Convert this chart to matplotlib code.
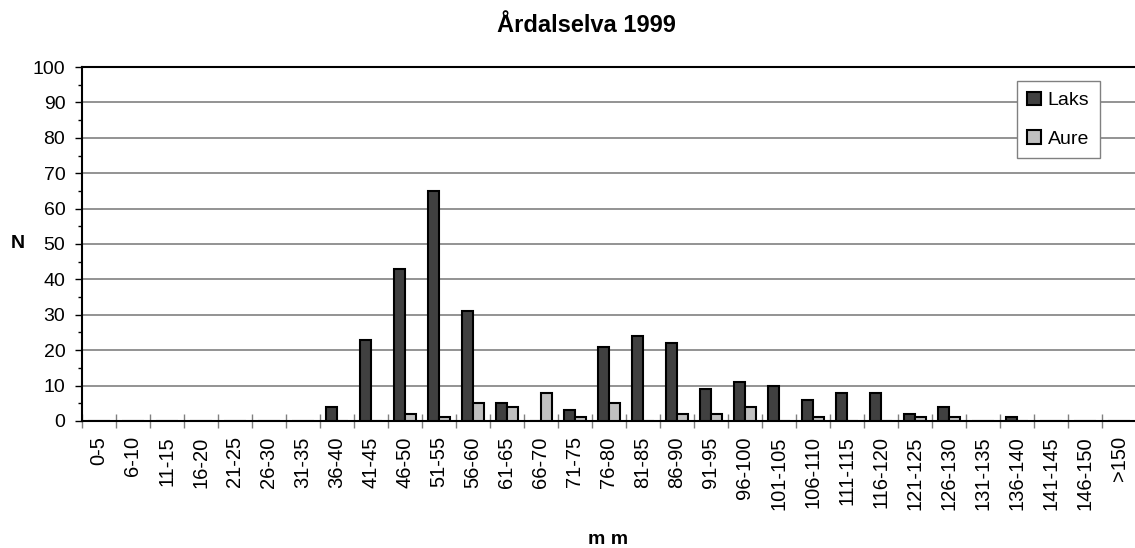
import numpy as np
import matplotlib.pyplot as plt

plt.rcParams['font.family'] = ['Liberation Sans', 'DejaVu Sans']

# Data
categories = ["0-5", "6-10", "11-15", "16-20", "21-25", "26-30", "31-35",
              "36-40", "41-45", "46-50", "51-55", "56-60", "61-65", "66-70",
              "71-75", "76-80", "81-85", "86-90", "91-95", "96-100",
              "101-105", "106-110", "111-115", "116-120", "121-125",
              "126-130", "131-135", "136-140", "141-145", "146-150", ">150"]

laks = [0, 0, 0, 0, 0, 0, 0, 4, 23, 43, 65, 31, 5, 0, 3, 21, 24, 22, 9, 11,
        10, 6, 8, 8, 2, 4, 0, 1, 0, 0, 0]
aure = [0, 0, 0, 0, 0, 0, 0, 0, 0, 2, 1, 5, 4, 8, 1, 5, 0, 2, 2, 4,
        0, 1, 0, 0, 1, 1, 0, 0, 0, 0, 0]

x = np.arange(len(categories))
w = 0.32

fig = plt.figure(figsize=(11.35, 5.48), dpi=100)
ax = fig.add_axes([0.0722, 0.2318, 0.9287, 0.6459])

ax.bar(x - w / 2, laks, width=w, color='#404040', edgecolor='black',
       linewidth=1.5, label='Laks', zorder=3)
ax.bar(x + w / 2, aure, width=w, color='#c0c0c0', edgecolor='black',
       linewidth=1.5, label='Aure', zorder=3)

ax.set_xlim(-0.5, len(categories) - 0.5)
ax.set_ylim(0, 100)
ax.set_yticks(range(0, 101, 10))
ax.set_yticks(range(0, 101, 5), minor=True)
ax.yaxis.grid(True, color='#808080', linewidth=1.2, zorder=0)

ax.set_xticks(x)
ax.set_xticklabels(categories, rotation=90, fontsize=14.5)
ax.set_xticks(np.arange(-0.5, len(categories), 1), minor=True)
ax.tick_params(axis='x', which='major', length=0, pad=11)
ax.tick_params(axis='x', which='minor', direction='inout', length=10,
               width=1, color='#808080')
ax.tick_params(axis='y', which='major', direction='out', length=5,
               width=1, labelsize=14, pad=7)
ax.tick_params(axis='y', which='minor', direction='out', length=3, width=1)

for s in ['left', 'bottom', 'top']:
    ax.spines[s].set_linewidth(1.5)
ax.spines['right'].set_visible(False)

fig.text(0.536, 0.016, 'm m', ha='center', va='center',
         fontsize=14, fontweight='bold')
fig.text(0.016, 0.556, 'N', ha='center', va='center',
         fontsize=14, fontweight='bold')
fig.text(0.5165, 0.953, 'Årdalselva 1999', ha='center', va='center',
         fontsize=17, fontweight='bold')

leg = ax.legend(loc='upper right', bbox_to_anchor=(0.966, 0.96),
                borderaxespad=0, fontsize=14, frameon=True, fancybox=False,
                framealpha=1, edgecolor='#808080', handlelength=0.7,
                handleheight=0.7, handletextpad=0.35, borderpad=0.55,
                labelspacing=1.05)
leg.get_frame().set_linewidth(1)

fig.savefig('out.png', dpi=100)
